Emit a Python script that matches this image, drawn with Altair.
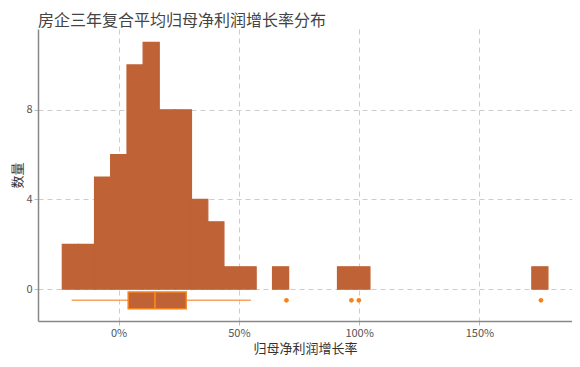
import altair as alt
import pandas as pd

# Histogram bins (growth rate as fraction) with non-zero counts
bin_lo = [-0.234, -0.167, -0.100, -0.033, 0.035, 0.102, 0.169, 0.236, 0.303, 0.371, 0.438, 0.505, 0.640, 0.910, 0.978, 1.718]
bin_hi = [-0.167, -0.100, -0.033, 0.035, 0.102, 0.169, 0.236, 0.303, 0.371, 0.438, 0.505, 0.572, 0.707, 0.978, 1.045, 1.785]
counts = [2, 2, 5, 6, 10, 11, 8, 8, 4, 3, 1, 1, 1, 1, 1, 1]

# Box plot statistics
whisker_lo = [-0.195]
whisker_hi = [0.550]
q1 = [0.040]
median = [0.151]
q3 = [0.281]
outliers = [0.698, 0.968, 0.999, 1.756]

x_ticks = [0.0, 0.5, 1.0, 1.5]
y_ticks = [0, 4, 8]

BAR = "#BF6236"
ORANGE = "#F5821F"
WHISK = "#F7A463"
FONT = "Noto Sans CJK SC"

hist_df = pd.DataFrame({"lo": bin_lo, "hi": bin_hi, "count": counts})
box_df = pd.DataFrame({"wlo": whisker_lo, "whi": whisker_hi, "q1": q1, "med": median, "q3": q3})
out_df = pd.DataFrame({"v": outliers})

xscale = alt.Scale(domain=[-0.335, 1.885], nice=False, zero=False)
yscale = alt.Scale(domain=[-1.42, 11.6], nice=False, zero=False)

bars = alt.Chart(hist_df).mark_rect(color=BAR, stroke=BAR, strokeWidth=1.2).encode(
    x=alt.X("lo:Q", scale=xscale, title="归母净利润增长率",
            axis=alt.Axis(values=x_ticks, format=".0%", grid=True)),
    x2="hi:Q",
    y=alt.Y("count:Q", scale=yscale, title="数量",
            axis=alt.Axis(values=y_ticks, grid=True)),
    y2=alt.datum(0),
)

whisker = alt.Chart(box_df).mark_rule(color=WHISK, strokeWidth=1.5).encode(
    x="wlo:Q", x2="whi:Q", y=alt.datum(-0.5)
)
box = alt.Chart(box_df).mark_rect(fill=BAR, stroke=ORANGE, strokeWidth=1.5).encode(
    x="q1:Q", x2="q3:Q", y=alt.datum(-0.13), y2=alt.datum(-0.87)
)
med = alt.Chart(box_df).mark_rule(color=ORANGE, strokeWidth=2).encode(
    x="med:Q", y=alt.datum(-0.13), y2=alt.datum(-0.87)
)
pts = alt.Chart(out_df).mark_circle(color=ORANGE, size=22, opacity=1).encode(
    x="v:Q", y=alt.datum(-0.5)
)

chart = alt.layer(bars, whisker, box, med, pts).properties(
    width=534, height=292,
    title=alt.TitleParams("房企三年复合平均归母净利润增长率分布", anchor="start", fontSize=16,
                          font=FONT, fontWeight="normal", color="#444444", offset=0,
                          frame="group"),
    padding={"left": 3, "top": 5, "right": 0, "bottom": 0},
).configure_view(stroke=None).configure_axis(
    labelFont=FONT, titleFont=FONT, labelColor="#555555", titleColor="#333333",
    labelFontSize=11, titleFontSize=13, titleFontWeight="normal",
    gridColor="#CCCCCC", gridDash=[5, 4], gridWidth=1,
    domainColor="#888888", domainWidth=1.5, tickColor="#BBBBBB", tickSize=4,
).configure_axisY(titlePadding=1).configure_axisX(titlePadding=4)

chart.save("out.html", embed_options={"renderer": "svg", "actions": False})
